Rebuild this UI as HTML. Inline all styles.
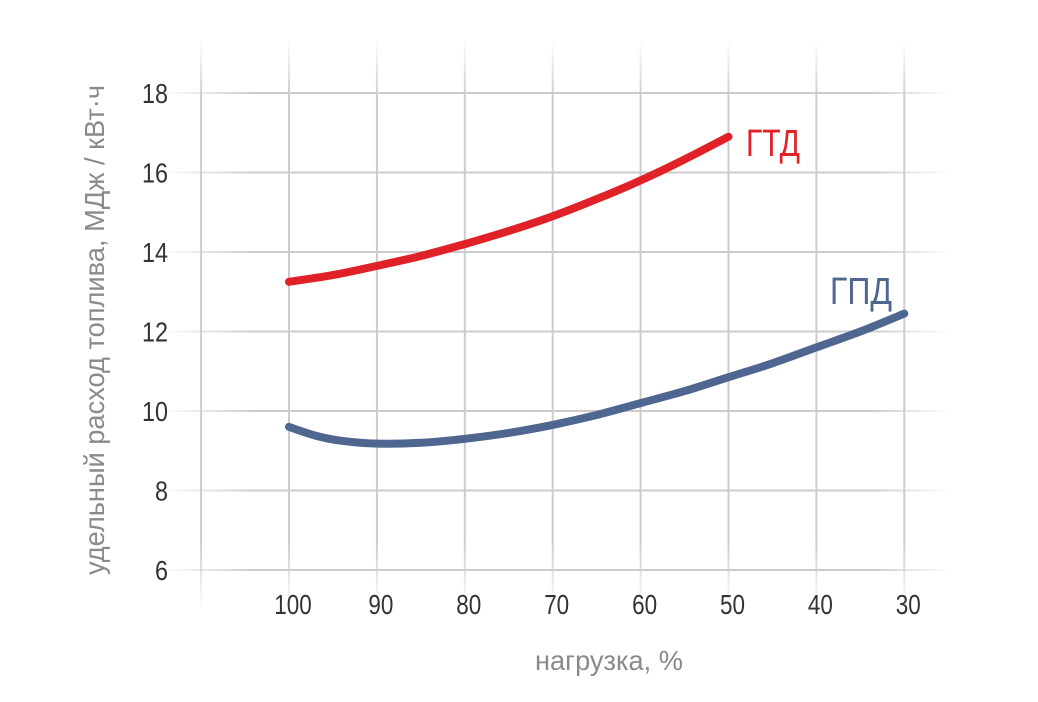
<!DOCTYPE html>
<html><head><meta charset="utf-8"><style>
body{margin:0;background:#fff;}
svg{display:block;font-family:"Liberation Sans Narrow","Liberation Sans",sans-serif;}
</style></head><body>
<svg id="chart" width="1038" height="702" viewBox="0 0 1038 702">
<defs>
<linearGradient id="hg" x1="0" x2="1"><stop offset="0" stop-color="#ccc" stop-opacity="0"/><stop offset="0.12" stop-color="#ccc"/><stop offset="0.9" stop-color="#ccc"/><stop offset="1" stop-color="#ccc" stop-opacity="0"/></linearGradient>
<linearGradient id="vg" x1="0" x2="0" y1="0" y2="1"><stop offset="0" stop-color="#ccc" stop-opacity="0"/><stop offset="0.1" stop-color="#ccc"/><stop offset="0.88" stop-color="#ccc"/><stop offset="1" stop-color="#ccc" stop-opacity="0"/></linearGradient>
</defs>
<g id="grid"></g>
<g id="ticks"></g>
<g id="lines"></g>
<text transform="translate(104,330) rotate(-90)" text-anchor="middle" font-size="28" fill="#8a8a8a" textLength="490" lengthAdjust="spacingAndGlyphs">удельный расход топлива, МДж / кВт·ч</text>
<text x="609" y="670" text-anchor="middle" font-size="28" fill="#8a8a8a" textLength="148" lengthAdjust="spacingAndGlyphs">нагрузка, %</text>
<text x="746" y="156" font-size="38" fill="#e02127" textLength="54" lengthAdjust="spacingAndGlyphs">ГТД</text>
<text x="830" y="304" font-size="38" fill="#4f6690" textLength="62" lengthAdjust="spacingAndGlyphs">ГПД</text>
</svg>
<script>
const xTicks=[100,90,80,70,60,50,40,30];
const yTicks=[6,8,10,12,14,16,18];
const gtdX=[100,95,90,85,80,75,70,65,60,55,50];
const gtdY=[13.25,13.42,13.65,13.9,14.2,14.53,14.9,15.33,15.8,16.33,16.9];
const gpdX=[100,97,94,90,85,80,75,70,65,60,55,50,45,40,35,30];
const gpdY=[9.6,9.38,9.25,9.18,9.2,9.3,9.45,9.65,9.9,10.2,10.5,10.85,11.2,11.6,12.0,12.45];
const X=v=>289+(100-v)*8.79;
const Y=v=>570-(v-6)*39.75;
const ns="http://www.w3.org/2000/svg";
const grid=document.getElementById('grid'),ticks=document.getElementById('ticks'),lines=document.getElementById('lines');
function mk(tag,attrs,parent){const e=document.createElementNS(ns,tag);for(const k in attrs)e.setAttribute(k,attrs[k]);parent.appendChild(e);return e;}
yTicks.forEach(t=>{
 const l=mk('rect',{x:160,y:Y(t)-1,width:790,height:2,fill:'url(#hg)'},grid);
 
 
 const tx=mk('text',{x:168,y:Y(t)+10,'text-anchor':'end','font-size':28,fill:'#333',textLength:String(t).length*13,lengthAdjust:'spacingAndGlyphs'},ticks);
 tx.textContent=t;
 
 
});
[110].concat(xTicks).forEach(t=>{
 const l=mk('rect',{x:X(t)-1,y:40,width:2,height:570,fill:'url(#vg)'},grid);
 
 
});
xTicks.forEach(t=>{
 const tx=mk('text',{x:X(t)+4,y:614,'text-anchor':'middle','font-size':28,fill:'#333',textLength:String(t).length*12.5,lengthAdjust:'spacingAndGlyphs'},ticks);
 tx.textContent=t;
 
 
});
function path(xs,ys){
 const p=xs.map((x,i)=>[X(x),Y(ys[i])]);
 let d='M'+p[0][0].toFixed(1)+','+p[0][1].toFixed(1);
 for(let i=0;i<p.length-1;i++){
  const p0=p[Math.max(0,i-1)],p1=p[i],p2=p[i+1],p3=p[Math.min(p.length-1,i+2)];
  const c1=[p1[0]+(p2[0]-p0[0])/6,p1[1]+(p2[1]-p0[1])/6];
  const c2=[p2[0]-(p3[0]-p1[0])/6,p2[1]-(p3[1]-p1[1])/6];
  d+='C'+c1.map(v=>v.toFixed(1)).join(',')+' '+c2.map(v=>v.toFixed(1)).join(',')+' '+p2.map(v=>v.toFixed(1)).join(',');
 }
 return d;
}
const p1=mk('path',{d:path(gtdX,gtdY),fill:'none',stroke:'#e02127','stroke-width':8,'stroke-linecap':'round','stroke-linejoin':'round'},lines);


const p2=mk('path',{d:path(gpdX,gpdY),fill:'none',stroke:'#4f6690','stroke-width':8,'stroke-linecap':'round','stroke-linejoin':'round'},lines);


</script>
</body></html>
